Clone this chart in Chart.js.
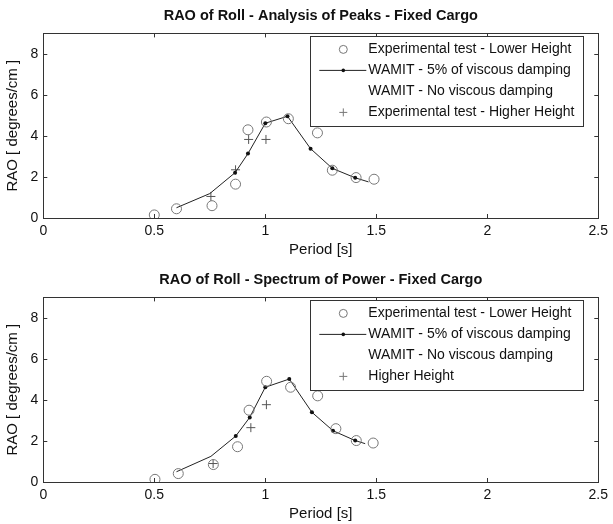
<!DOCTYPE html>
<html>
<head>
<meta charset="utf-8">
<title>RAO of Roll - Fixed Cargo</title>
<script src="https://cdn.jsdelivr.net/npm/chart.js@4.4.1/dist/chart.umd.min.js"></script>
<style>
  html, body { margin: 0; padding: 0; background: #fff; }
  #wrap { position: relative; width: 613px; height: 524px; overflow: hidden; }
  canvas { position: absolute; left: 0; }
  #peaksChart { top: 0; }
  #spectrumChart { top: 264px; }
</style>
</head>
<body>
<div id="wrap">
  <canvas id="peaksChart" width="613" height="262"></canvas>
  <canvas id="spectrumChart" width="613" height="262"></canvas>
</div>
<script>
// Axis ticks
const periodTicks = [0, 0.5, 1, 1.5, 2, 2.5];
const raoTicks = [0, 2, 4, 6, 8];

// Series labels
const labelLower = 'Experimental test - Lower Height';
const labelWamit5 = 'WAMIT - 5% of viscous damping';
const labelWamit0 = 'WAMIT - No viscous damping';

// Analysis of Peaks
const peaksLowerT = [0.5, 0.6, 0.76, 0.866, 0.922, 1.005, 1.104, 1.235, 1.302, 1.409, 1.49];
const peaksLowerRAO = [0.15, 0.45, 0.6, 1.65, 4.3, 4.68, 4.84, 4.15, 2.33, 1.97, 1.89];
const peaksWamitT = [0.6, 0.75, 0.864, 0.922, 1.0, 1.1, 1.204, 1.302, 1.405, 1.465];
const peaksWamitRAO = [0.5, 1.19, 2.21, 3.14, 4.62, 4.96, 3.38, 2.42, 1.96, 1.76];
const peaksHigherT = [0.755, 0.866, 0.925, 1.003];
const peaksHigherRAO = [1.05, 2.35, 3.83, 3.83];

// Spectrum of Power
const specLowerT = [0.503, 0.608, 0.766, 0.875, 0.927, 1.006, 1.114, 1.236, 1.318, 1.41, 1.486];
const specLowerRAO = [0.13, 0.41, 0.85, 1.72, 3.5, 4.91, 4.62, 4.2, 2.6, 2.02, 1.9];
const specWamitT = [0.6, 0.755, 0.867, 0.93, 1.0, 1.108, 1.21, 1.305, 1.405, 1.45];
const specWamitRAO = [0.5, 1.25, 2.24, 3.15, 4.62, 5.02, 3.4, 2.5, 2.02, 1.87];
const specHigherT = [0.765, 0.935, 1.005];
const specHigherRAO = [0.9, 2.65, 3.77];

const FONT = '"Liberation Sans", Arial, sans-serif';
Chart.defaults.font.family = FONT;
Chart.defaults.color = '#111';

function toPoints(xs, ys) {
  return xs.map((x, i) => ({ x: x, y: ys[i] }));
}

// matlab style axes box, inward ticks and boxed legend
const matlabAxes = {
  id: 'matlabAxes',
  afterDraw(chart) {
    const ctx = chart.ctx;
    const a = chart.chartArea;
    const xs = chart.scales.x;
    const ys = chart.scales.y;
    ctx.save();
    ctx.strokeStyle = '#333';
    ctx.lineWidth = 1;
    ctx.strokeRect(Math.round(a.left) + 0.5, Math.round(a.top) + 0.5,
      Math.round(a.right - a.left), Math.round(a.bottom - a.top));
    ctx.beginPath();
    xs.ticks.forEach(t => {
      const px = Math.round(xs.getPixelForValue(t.value)) + 0.5;
      ctx.moveTo(px, a.bottom); ctx.lineTo(px, a.bottom - 4);
      ctx.moveTo(px, a.top); ctx.lineTo(px, a.top + 4);
    });
    ys.ticks.forEach(t => {
      const py = Math.round(ys.getPixelForValue(t.value)) + 0.5;
      ctx.moveTo(a.left, py); ctx.lineTo(a.left + 4, py);
      ctx.moveTo(a.right, py); ctx.lineTo(a.right - 4, py);
    });
    ctx.stroke();

    // legend
    const lg = { left: a.left + 267, top: a.top + 3, width: 273, height: 90 };
    ctx.fillStyle = '#fff';
    ctx.fillRect(lg.left, lg.top, lg.width, lg.height);
    ctx.strokeStyle = '#333';
    ctx.strokeRect(Math.round(lg.left) + 0.5, Math.round(lg.top) + 0.5, lg.width, lg.height);
    ctx.font = '14px ' + FONT;
    ctx.textBaseline = 'middle';
    ctx.textAlign = 'left';
    chart.data.datasets.forEach((ds, row) => {
      const cy = lg.top + 13 + row * 21;
      const sx = lg.left + 33;
      if (ds.legendSymbol === 'circle') {
        ctx.beginPath();
        ctx.arc(sx, cy, 4, 0, Math.PI * 2);
        ctx.strokeStyle = '#777';
        ctx.stroke();
      } else if (ds.legendSymbol === 'line') {
        ctx.beginPath();
        ctx.moveTo(sx - 24, cy); ctx.lineTo(sx + 23, cy);
        ctx.strokeStyle = '#222';
        ctx.stroke();
        ctx.beginPath();
        ctx.arc(sx, cy, 1.8, 0, Math.PI * 2);
        ctx.fillStyle = '#111';
        ctx.fill();
      } else if (ds.legendSymbol === 'plus') {
        ctx.beginPath();
        ctx.moveTo(sx - 4, cy); ctx.lineTo(sx + 4, cy);
        ctx.moveTo(sx, cy - 4); ctx.lineTo(sx, cy + 4);
        ctx.strokeStyle = '#777';
        ctx.stroke();
      }
      ctx.fillStyle = '#111';
      ctx.fillText(ds.label, lg.left + 58, cy);
    });
    ctx.restore();
  }
};

function makeChart(id, title, lowerT, lowerRAO, wamitT, wamitRAO, higherT, higherRAO, higherLabel) {
  const ctx = document.getElementById(id).getContext('2d');
  return new Chart(ctx, {
    type: 'scatter',
    data: {
      datasets: [{
        label: labelLower,
        legendSymbol: 'circle',
        data: toPoints(lowerT, lowerRAO),
        pointStyle: 'circle',
        pointRadius: 5,
        borderColor: '#777',
        backgroundColor: 'rgba(0,0,0,0)',
        borderWidth: 1
      }, {
        label: labelWamit5,
        legendSymbol: 'line',
        data: toPoints(wamitT, wamitRAO),
        showLine: true,
        borderColor: '#222',
        borderWidth: 1,
        pointRadius: c => (c.dataIndex >= 2 && c.dataIndex <= 8 ? 2 : 0),
        pointBackgroundColor: '#111',
        pointBorderWidth: 0
      }, {
        label: labelWamit0,
        legendSymbol: 'none',
        data: [],
        borderColor: 'rgba(0,0,0,0)'
      }, {
        label: higherLabel,
        legendSymbol: 'plus',
        data: toPoints(higherT, higherRAO),
        pointStyle: 'cross',
        pointRadius: 4.5,
        borderColor: '#555',
        borderWidth: 1
      }]
    },
    options: {
      responsive: false,
      devicePixelRatio: 1,
      animation: false,
      layout: { padding: { left: 0, right: 13, top: 0, bottom: 0 } },
      plugins: {
        legend: { display: false },
        tooltip: { enabled: false },
        title: {
          display: true,
          fullSize: false, // centred over the axes only
          text: title,
          color: '#111',
          font: { size: 14.5, weight: 'bold', family: FONT },
          padding: { top: 7, bottom: 9 }
        }
      },
      scales: {
        x: {
          type: 'linear',
          min: 0,
          max: 2.5,
          grid: { display: false, drawTicks: false },
          border: { display: false },
          afterBuildTicks: s => { s.ticks = periodTicks.map(v => ({ value: v })); },
          afterFit: s => { s.height = 44; },
          ticks: { padding: 5, maxRotation: 0, autoSkip: false, font: { size: 14 }, callback: v => String(v) },
          title: { display: true, text: 'Period [s]', font: { size: 15 }, padding: { top: 0, bottom: 3 } }
        },
        y: {
          type: 'linear',
          min: 0,
          max: 9,
          grid: { display: false, drawTicks: false },
          border: { display: false },
          afterBuildTicks: s => { s.ticks = raoTicks.map(v => ({ value: v })); },
          afterFit: s => { s.width = 43.3; },
          ticks: { padding: 5, font: { size: 14 }, callback: v => String(v) },
          title: { display: true, text: 'RAO [ degrees/cm ]', font: { size: 15 }, padding: { top: 4, bottom: 0 } }
        }
      }
    },
    plugins: [matlabAxes]
  });
}

makeChart('peaksChart', 'RAO of Roll - Analysis of Peaks - Fixed Cargo',
  peaksLowerT, peaksLowerRAO, peaksWamitT, peaksWamitRAO, peaksHigherT, peaksHigherRAO,
  'Experimental test - Higher Height');

makeChart('spectrumChart', 'RAO of Roll - Spectrum of Power - Fixed Cargo',
  specLowerT, specLowerRAO, specWamitT, specWamitRAO, specHigherT, specHigherRAO,
  'Higher Height');
</script>
</body>
</html>
